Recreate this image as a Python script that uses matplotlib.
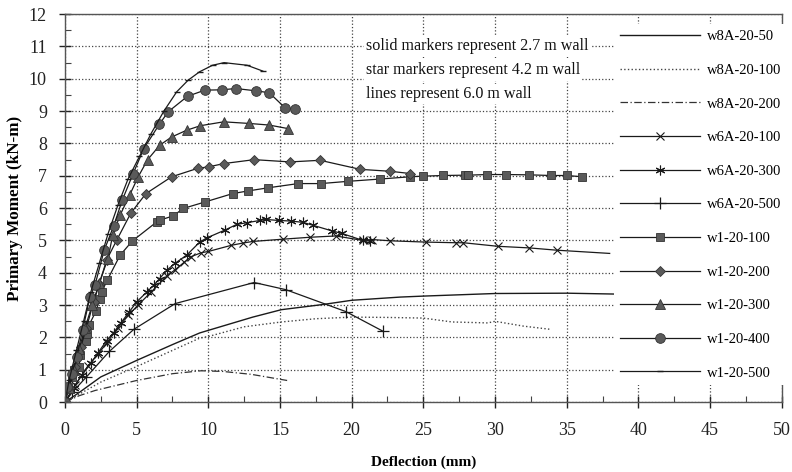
import matplotlib
matplotlib.use("Agg")
import matplotlib.pyplot as plt
from matplotlib.ticker import MultipleLocator

# ---- data (deflection mm, primary moment kN-m) ----
w8A_50_x = [0, 1, 2.5, 5, 7.5, 9.4, 10, 13.1, 15.1, 18.0, 20, 23.4, 25, 30, 35, 40, 45, 51]
w8A_50_y = [0, 0.3, 0.78, 1.29, 1.78, 2.14, 2.22, 2.63, 2.86, 3.02, 3.15, 3.25, 3.28, 3.36, 3.37, 3.33, 3.28, 3.24]

w8A_100_x = [0, 2.5, 5, 7.5, 9.4, 10, 12.5, 15.1, 17.5, 20, 22.5, 25, 27, 29.5, 30, 32, 33.9]
w8A_100_y = [0, 0.62, 1.1, 1.6, 1.98, 2.03, 2.33, 2.48, 2.58, 2.63, 2.62, 2.6, 2.48, 2.45, 2.5, 2.35, 2.25]

w8A_200_x = [0, 1, 2.1, 5, 7.5, 9.5, 11, 13, 15.5]
w8A_200_y = [0, 0.2, 0.36, 0.67, 0.88, 0.97, 0.95, 0.86, 0.67]

w6A_100_x = [0, 0.7, 1.6, 2.3, 2.9, 3.7, 4.4, 5.1, 6.0, 7.1, 7.7, 8.3, 8.8, 9.5, 10.0, 11.6, 12.4, 13.1,
             15.2, 17.1, 18.9, 20.8, 21.4, 22.7, 25.2, 27.3, 27.8, 30.2, 32.4, 34.3, 38.0]
w6A_100_y = [0, 0.52, 1.12, 1.48, 1.82, 2.3, 2.68, 3.0, 3.4, 3.9, 4.1, 4.32, 4.5, 4.62, 4.66, 4.85, 4.92, 4.97,
             5.04, 5.1, 5.14, 5.0, 5.03, 4.99, 4.95, 4.93, 4.93, 4.82, 4.77, 4.7, 4.6]

w6A_300_x = [0, 0.6, 1.2, 1.8, 2.3, 2.9, 3.4, 3.9, 4.5, 5.0, 5.7, 6.2, 6.6, 7.1, 7.7, 8.5, 9.4, 9.9,
             11.2, 12.0, 12.7, 13.6, 14.0, 14.9, 15.8, 16.6, 17.3, 18.6, 19.3, 20.8, 21.3]
w6A_300_y = [0, 0.45, 0.85, 1.2, 1.52, 1.9, 2.15, 2.45, 2.8, 3.1, 3.4, 3.62, 3.82, 4.08, 4.3, 4.55, 4.95, 5.08,
             5.33, 5.5, 5.55, 5.62, 5.65, 5.62, 5.6, 5.56, 5.47, 5.3, 5.22, 5.0, 4.98]

w6A_500_x = [0, 0.5, 1.5, 3.1, 4.8, 7.7, 13.2, 15.4, 19.6, 22.2]
w6A_500_y = [0, 0.3, 0.78, 1.57, 2.25, 3.05, 3.7, 3.48, 2.8, 2.19]

w1_100_x = [0, 0.23, 0.47, 0.63, 1.0, 1.05, 1.46, 1.56, 1.7, 2.16, 2.44, 2.56, 2.95, 3.84, 4.69, 6.39, 6.62,
            7.55, 8.25, 9.76, 11.7, 12.74, 14.18, 16.27, 17.85, 19.76, 21.97, 24.06, 25.0, 26.4, 27.9, 28.1,
            29.45, 30.8, 32.4, 33.9, 35.0, 36.1]
w1_100_y = [0, 0.46, 0.77, 1.0, 1.08, 1.45, 1.88, 2.1, 2.4, 2.81, 3.2, 3.41, 3.77, 4.54, 4.98, 5.57, 5.63,
            5.76, 5.99, 6.19, 6.45, 6.53, 6.63, 6.76, 6.76, 6.83, 6.9, 6.97, 6.99, 7.01, 7.02, 7.02,
            7.04, 7.04, 7.03, 7.01, 7.01, 6.97]

w1_200_x = [0, 0.3, 0.7, 1.1, 1.5, 2.0, 2.4, 2.9, 3.6, 4.6, 5.65, 7.44, 9.25, 10.05, 11.1, 13.2, 15.7, 17.8,
            20.6, 22.7, 24.1]
w1_200_y = [0, 0.45, 1.1, 1.7, 2.3, 3.1, 3.65, 4.39, 5.0, 5.85, 6.45, 6.97, 7.23, 7.28, 7.38, 7.5, 7.43, 7.48,
            7.2, 7.14, 7.07]

w1_300_x = [0, 0.25, 0.6, 1.0, 1.4, 1.9, 2.4, 3.0, 3.33, 3.84, 4.53, 5.11, 5.77, 6.62, 7.44, 8.49, 9.45,
            11.07, 12.85, 14.25, 15.57]
w1_300_y = [0, 0.45, 1.0, 1.65, 2.3, 3.0, 3.7, 4.44, 5.16, 5.78, 6.42, 6.97, 7.5, 7.95, 8.2, 8.41, 8.55,
            8.67, 8.62, 8.57, 8.46]

w1_400_x = [0, 0.12, 0.47, 0.82, 1.23, 1.74, 2.09, 2.74, 3.4, 4.0, 4.74, 5.5, 6.58, 7.2, 8.55, 9.76, 10.93,
            11.92, 13.3, 14.25, 15.34, 16.04]
w1_400_y = [0, 0.46, 0.88, 1.39, 2.22, 3.25, 3.61, 4.7, 5.45, 6.25, 7.05, 7.84, 8.59, 8.98, 9.46, 9.65, 9.66,
            9.7, 9.63, 9.57, 9.11, 9.06]

w1_500_x = [0, 0.3, 0.8, 1.3, 1.8, 2.4, 3.0, 3.7, 4.4, 5.2, 6.0, 6.9, 7.8, 8.6, 9.4, 10.3, 11.1, 12.7, 13.8]
w1_500_y = [0, 0.7, 1.6, 2.5, 3.4, 4.3, 5.2, 6.1, 6.9, 7.6, 8.3, 9.0, 9.6, 9.96, 10.22, 10.42, 10.5, 10.42, 10.24]

labels = ["w8A-20-50", "w8A-20-100", "w8A-20-200", "w6A-20-100", "w6A-20-300", "w6A-20-500",
          "w1-20-100", "w1-20-200", "w1-20-300", "w1-20-400", "w1-20-500"]
notes = ["solid markers represent 2.7 m wall",
         "star markers represent 4.2 m wall",
         "lines represent 6.0 m wall"]
x_ticks = [0, 5, 10, 15, 20, 25, 30, 35, 40, 45, 50]
y_ticks = list(range(0, 13))

plt.rcParams['font.family'] = ['Liberation Serif', 'DejaVu Serif']

fig = plt.figure(figsize=(7.92, 4.72), dpi=100)
ax = fig.add_axes([0.082, 0.148, 0.905, 0.822])

lc = '#1a1a1a'
fc = '#5a5a5a'
ax.plot(w8A_50_x, w8A_50_y, '-', color=lc, lw=1.0, label=labels[0])
ax.plot(w8A_100_x, w8A_100_y, ':', color='#444444', lw=1.0, label=labels[1])
ax.plot(w8A_200_x, w8A_200_y, '-.', color='#333333', lw=0.9, dashes=(6, 2, 1, 2), label=labels[2])
ax.plot(w6A_100_x, w6A_100_y, '-', color=lc, lw=0.9, marker='x', ms=6, mew=0.8,
        markevery=list(range(1, len(w6A_100_x) - 1)), label=labels[3])
ax.plot(w6A_300_x, w6A_300_y, '-', color=lc, lw=0.9, marker=(6, 2, 0), ms=7, mew=0.8,
        markevery=list(range(1, len(w6A_300_x))), label=labels[4])
ax.plot(w6A_500_x, w6A_500_y, '-', color=lc, lw=0.9, marker='+', ms=8, mew=0.9,
        markevery=list(range(1, len(w6A_500_x))), label=labels[5])
ax.plot(w1_100_x, w1_100_y, '-', color=lc, lw=0.9, marker='s', ms=6, mfc=fc, mec='#333333', mew=0.6,
        label=labels[6])
ax.plot(w1_200_x, w1_200_y, '-', color=lc, lw=0.9, marker='D', ms=5, mfc=fc, mec='#333333', mew=0.6,
        label=labels[7])
ax.plot(w1_300_x, w1_300_y, '-', color=lc, lw=0.9, marker='^', ms=7, mfc=fc, mec='#333333', mew=0.6,
        label=labels[8])
ax.plot(w1_400_x, w1_400_y, '-', color=lc, lw=0.9, marker='o', ms=7, mfc=fc, mec='#333333', mew=0.6,
        label=labels[9])
ax.plot(w1_500_x, w1_500_y, '-', color=lc, lw=0.9, marker='_', ms=4, mew=1.0, label=labels[10])

ax.set_xlim(0, 50)
ax.set_ylim(0, 12)
ax.set_xticks(x_ticks)
ax.set_yticks(y_ticks)
ax.xaxis.set_minor_locator(MultipleLocator(2.5))
ax.yaxis.set_minor_locator(MultipleLocator(0.5))
ax.tick_params(which='major', direction='inout', length=8, width=1, labelsize=13, colors='#222222')
ax.tick_params(which='minor', direction='in', length=4, width=0.8, colors='#444444')
ax.tick_params(axis='x', pad=10)
ax.tick_params(axis='y', pad=9)
ax.grid(True, which='major', linestyle=':', color='#444444', lw=0.9)
ax.set_axisbelow(True)
for s in ax.spines.values():
    s.set_color('#555555')
    s.set_linewidth(1.0)

ax.set_xlabel("Deflection (mm)", fontsize=11, fontweight='bold', labelpad=12)
ax.set_ylabel("Primary Moment (kN-m)", fontsize=12.3, fontweight='bold', labelpad=4)

for i, t in enumerate(notes):
    ax.text(21.0, 11.0 - i * 0.74, t, fontsize=11.6, va='center', ha='left', color='#111111',
            bbox=dict(facecolor='white', edgecolor='none', pad=1.5), zorder=5)

leg = ax.legend(loc='upper left', bbox_to_anchor=(0.766, 0.974), fontsize=10.5, handlelength=5.5,
                labelspacing=1.40, handletextpad=0.5, frameon=True, fancybox=False,
                borderpad=0.4, borderaxespad=0)
leg.get_frame().set_facecolor('white')
leg.get_frame().set_linewidth(0)
leg.get_frame().set_alpha(1)
leg.set_zorder(6)

fig.savefig("out.png", dpi=100)
